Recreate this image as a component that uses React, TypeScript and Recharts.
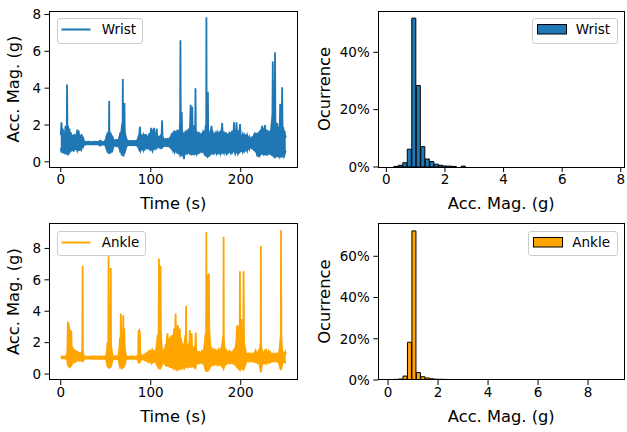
import React from 'react';
import { AreaChart, Area, BarChart, Bar, XAxis, YAxis, Legend, Label } from 'recharts';

const FONT = 'DejaVu Sans';
const WRIST_COLOR = '#1f77b4';
const ANKLE_COLOR = '#ffa500';

// Wrist signal: [time (s), lower envelope (g), upper envelope (g)]
const wristSignal: number[][] = [
  [0, 0.75, 1.45], [0.8, 0.5, 2.15], [1.5, 0.7, 1.5], [2.2, 0.6, 1.8], [3, 0.75, 1.4], [3.8, 0.45, 1.6],
  [4.5, 0.7, 1.45], [5.3, 0.4, 1.95], [6.1, 0.65, 1.5], [6.7, 0.55, 1.9], [7.05, 0.6, 4.2], [7.4, 0.6, 1.7],
  [8.1, 0.35, 1.95], [8.9, 0.7, 1.45], [9.6, 0.45, 1.8], [10.4, 0.7, 1.4], [11.2, 0.55, 1.6], [12, 0.8, 1.3],
  [12.8, 0.6, 1.45], [13.6, 0.8, 1.25], [14.4, 0.55, 1.5], [15.2, 0.8, 1.3], [16, 0.65, 1.4], [16.8, 0.85, 1.25],
  [17.6, 0.7, 1.4], [18.4, 0.6, 1.75], [19.2, 0.75, 1.45], [19.9, 0.6, 1.7], [20.7, 0.8, 1.3], [21.5, 0.7, 1.45],
  [22.3, 0.85, 1.25], [23.1, 0.7, 1.5], [23.9, 0.85, 1.25], [24.8, 0.8, 1.3], [25.7, 0.9, 1.15], [26.6, 0.93, 1.1],
  [28.5, 0.95, 1.08], [31, 0.96, 1.1], [34, 0.95, 1.07], [37, 0.96, 1.09], [40, 0.95, 1.08], [42.5, 0.93, 1.1],
  [44, 0.88, 1.15], [45, 0.92, 1.12], [46.5, 0.95, 1.07], [48.5, 0.93, 1.1],
  [50, 0.85, 1.2], [50.8, 0.7, 1.4], [51.6, 0.6, 1.5], [52.4, 0.75, 1.35], [53.1, 0.55, 1.6], [53.55, 0.6, 1.5],
  [53.8, 0.65, 3.3], [54.05, 0.6, 1.5], [54.6, 0.45, 1.55], [55.3, 0.7, 1.35], [56, 0.5, 1.45], [56.8, 0.75, 1.3],
  [57.6, 0.65, 1.35], [58.5, 0.85, 1.2], [60, 0.88, 1.15], [61.5, 0.85, 1.2], [63, 0.88, 1.15], [64.5, 0.8, 1.25],
  [65.4, 0.7, 1.4], [66.2, 0.5, 1.6], [67, 0.7, 1.45], [67.7, 0.35, 1.85], [68.4, 0.6, 2.1], [68.75, 0.55, 2.0],
  [68.95, 0.5, 4.5], [69.2, 0.4, 2.2], [69.8, 0.3, 1.8], [70.4, 0.55, 1.9], [70.8, 0.5, 3.2], [71.1, 0.5, 1.7],
  [71.7, 0.6, 1.5], [72.4, 0.75, 1.35], [73.2, 0.85, 1.2], [74.5, 0.9, 1.15], [77, 0.92, 1.12], [80, 0.9, 1.14],
  [83, 0.92, 1.12], [85.5, 0.85, 1.2],
  [86.5, 0.75, 1.4], [87.3, 0.65, 1.5], [87.9, 0.7, 1.92], [88.5, 0.6, 1.55], [89.3, 0.75, 1.35], [90.1, 0.7, 1.4],
  [91, 0.8, 1.3], [91.8, 0.65, 1.45], [92.6, 0.8, 1.3], [93.4, 0.7, 1.5], [94.2, 0.8, 1.3], [95, 0.75, 1.4],
  [95.8, 0.85, 1.25], [96.6, 0.75, 1.35], [97.4, 0.8, 1.3], [98.2, 0.7, 1.55], [99, 0.75, 1.4], [99.8, 0.65, 1.6],
  [100.5, 0.7, 1.85], [101.2, 0.75, 1.45], [102, 0.6, 1.75], [102.8, 0.75, 1.5], [103.6, 0.7, 1.85], [104.3, 0.8, 1.35],
  [105.1, 0.75, 1.45], [105.9, 0.7, 1.5], [106.6, 0.75, 1.8], [107.3, 0.8, 1.35], [108.1, 0.85, 1.3], [108.9, 0.8, 1.35],
  [109.7, 0.85, 1.25], [110.5, 0.75, 1.4], [111.3, 0.8, 1.45], [112.1, 0.75, 1.5], [112.6, 0.8, 2.25], [113.1, 0.8, 1.45],
  [113.9, 0.85, 1.25], [115, 0.88, 1.2], [116.3, 0.85, 1.25], [117.6, 0.88, 1.2], [118.9, 0.84, 1.25], [120.2, 0.85, 1.22],
  [121.4, 0.8, 1.3],
  [122.4, 0.75, 1.4], [123.2, 0.7, 1.5], [124, 0.75, 1.45], [124.8, 0.6, 1.55], [125.6, 0.7, 1.4], [126.4, 0.55, 1.7],
  [127.2, 0.7, 1.45], [128, 0.6, 1.55], [128.8, 0.7, 1.45], [129.6, 0.45, 1.75], [130.4, 0.65, 1.5], [131.2, 0.5, 1.7],
  [132, 0.6, 1.5], [132.6, 0.4, 2.2], [133, 0.45, 6.6], [133.4, 0.4, 1.8], [134, 0.5, 1.6], [134.4, 0.5, 2.7],
  [134.8, 0.4, 1.7], [135.5, 0.3, 1.5], [136.2, 0.55, 1.4], [136.9, 0.15, 1.6], [137.5, 0.45, 1.45], [138.2, 0.55, 1.55],
  [139, 0.4, 1.7], [139.8, 0.6, 1.45], [140.6, 0.5, 1.6], [141.4, 0.65, 1.45], [142.2, 0.45, 1.8], [143, 0.6, 1.5],
  [143.7, 0.4, 2.0], [144.3, 0.5, 3.1], [144.8, 0.5, 1.6], [145.5, 0.35, 1.9], [146.1, 0.5, 3.0], [146.6, 0.5, 1.6],
  [147.3, 0.45, 1.9], [148, 0.6, 1.5], [148.7, 0.45, 2.0], [149.4, 0.5, 1.8], [149.7, 0.5, 4.0], [150.1, 0.45, 1.7],
  [150.8, 0.4, 1.6], [151.6, 0.6, 1.45], [152.4, 0.5, 1.55], [153.2, 0.65, 1.4], [154, 0.45, 1.6], [154.8, 0.6, 1.45],
  [155.6, 0.7, 1.4], [156.4, 0.5, 1.5], [157.2, 0.65, 1.45], [158, 0.55, 1.6], [158.8, 0.6, 1.45], [159.6, 0.45, 1.7],
  [160.4, 0.55, 1.5], [161.1, 0.4, 2.0], [161.6, 0.45, 1.8], [161.85, 0.4, 7.85], [162.1, 0.35, 1.9], [162.7, 0.3, 2.1],
  [163.2, 0.4, 1.8], [163.5, 0.4, 3.8], [163.8, 0.35, 1.8], [164.5, 0.45, 1.6], [165.2, 0.3, 1.5], [166, 0.6, 1.45],
  [166.8, 0.45, 1.7], [167.5, 0.5, 1.95], [168.2, 0.55, 1.5], [169, 0.4, 1.6], [169.8, 0.6, 1.45], [170.6, 0.5, 1.5],
  [171.4, 0.65, 1.4], [172.2, 0.55, 1.55], [173, 0.45, 1.45], [173.8, 0.6, 1.6], [174.6, 0.5, 1.45], [175.4, 0.65, 1.4],
  [176.2, 0.5, 1.65], [177, 0.6, 1.45], [177.8, 0.45, 1.6], [178.6, 0.6, 1.45], [179.3, 0.55, 2.1], [180, 0.5, 1.5],
  [180.8, 0.65, 1.4], [181.6, 0.5, 1.55], [182.4, 0.65, 1.45], [183.2, 0.55, 1.6], [184, 0.45, 1.4], [184.8, 0.6, 1.5],
  [185.6, 0.5, 1.45], [186.4, 0.65, 1.4], [187.2, 0.55, 1.55], [188, 0.6, 1.45], [188.8, 0.5, 1.6], [189.6, 0.65, 1.4],
  [190.4, 0.5, 1.7], [191.2, 0.6, 1.45], [192, 0.55, 1.6], [192.5, 0.55, 2.15], [193, 0.6, 1.5], [193.8, 0.45, 1.65],
  [194.6, 0.6, 1.45], [195.3, 0.55, 2.15], [195.9, 0.6, 1.5], [196.7, 0.45, 1.55], [197.5, 0.6, 1.7], [198.3, 0.5, 1.5],
  [199.2, 0.55, 2.05], [199.9, 0.65, 1.45], [200.7, 0.6, 1.4], [201.5, 0.7, 1.35], [202.3, 0.55, 1.5], [203.1, 0.7, 1.35],
  [203.9, 0.6, 1.45], [204.7, 0.75, 1.3], [205.5, 0.65, 1.4], [206.3, 0.75, 1.3], [207.1, 0.6, 1.45], [207.9, 0.75, 1.3],
  [208.7, 0.8, 1.25], [209.5, 0.7, 1.35], [210.3, 0.85, 1.2], [211.1, 0.8, 1.25], [211.9, 0.75, 1.3], [212.7, 0.85, 1.2],
  [213.5, 0.7, 1.35], [214.3, 0.65, 1.4], [215.1, 0.7, 1.5], [215.9, 0.6, 1.4], [216.7, 0.55, 1.5], [217.5, 0.65, 1.4],
  [218.2, 0.3, 1.5], [218.9, 0.6, 1.45], [219.7, 0.5, 1.55], [220.5, 0.25, 1.6], [221.2, 0.55, 1.5], [222, 0.45, 1.75],
  [222.8, 0.6, 1.5], [223.6, 0.4, 1.95], [224.4, 0.55, 1.6], [225.2, 0.45, 1.85], [226, 0.6, 1.55], [226.8, 0.35, 2.0],
  [227.6, 0.55, 1.6], [228.4, 0.45, 1.75], [229.2, 0.6, 1.5], [230, 0.45, 1.7], [230.8, 0.6, 1.5], [231.6, 0.4, 1.6],
  [232.4, 0.55, 1.65], [233.2, 0.45, 1.5], [233.9, 0.4, 1.9], [234.6, 0.45, 2.2], [235.2, 0.35, 2.6], [235.6, 0.35, 5.45],
  [236, 0.35, 2.3], [236.7, 0.3, 2.6], [237.3, 0.35, 4.4], [237.7, 0.3, 2.5], [238.1, 0.35, 5.95], [238.5, 0.3, 2.2],
  [239.2, 0.4, 2.0], [239.9, 0.35, 1.7], [240.6, 0.45, 2.1], [241.3, 0.35, 1.8], [242, 0.45, 1.6], [242.7, 0.3, 1.9],
  [243.3, 0.4, 1.7], [243.8, 0.35, 3.15], [244.3, 0.45, 1.8], [245, 0.3, 2.2], [245.6, 0.35, 2.4], [246, 0.35, 4.05],
  [246.4, 0.4, 1.8], [247.1, 0.3, 1.9], [247.8, 0.45, 1.6], [248.5, 0.35, 1.7], [249.2, 0.5, 1.5], [250, 0.6, 1.3],
];

// Ankle signal: [time (s), lower envelope (g), upper envelope (g)]
const ankleSignal: number[][] = [
  [0, 1.0, 1.12], [3, 1.0, 1.1], [6, 0.98, 1.12], [7.2, 0.9, 1.4], [7.6, 0.7, 2.0], [7.9, 0.6, 3.25],
  [8.6, 0.5, 3.2], [9.2, 0.55, 3.0], [9.6, 0.6, 1.8], [10.3, 0.45, 2.7], [11, 0.5, 2.75], [11.7, 0.55, 2.7],
  [12.1, 0.6, 1.8], [12.8, 0.7, 1.5], [13.6, 0.75, 1.6], [14.4, 0.8, 1.45], [15.2, 0.75, 1.5], [16, 0.85, 1.4],
  [16.8, 0.8, 1.45], [17.6, 0.85, 1.35], [18.4, 0.85, 1.4], [19.2, 0.9, 1.3], [20, 0.85, 1.35], [20.8, 0.9, 1.25],
  [21.6, 0.88, 1.3], [22.4, 0.9, 1.2], [23.2, 0.85, 1.35], [23.9, 0.8, 1.6], [24.3, 0.8, 6.9], [24.6, 0.8, 1.5],
  [25.2, 0.9, 1.2], [26, 0.95, 1.13], [28, 0.98, 1.11], [32, 0.98, 1.1], [36, 0.97, 1.12], [40, 0.98, 1.1],
  [44, 0.97, 1.12], [48, 0.98, 1.1],
  [50.5, 0.92, 1.18], [51.3, 0.7, 1.5], [51.9, 0.5, 2.0], [52.5, 0.45, 1.8], [52.85, 0.5, 2.2], [53.1, 0.5, 7.5],
  [53.35, 0.45, 2.1], [53.9, 0.4, 1.9], [54.5, 0.5, 2.1], [55.1, 0.45, 1.9], [55.6, 0.45, 6.75], [55.9, 0.5, 1.8],
  [56.4, 0.6, 1.6], [57, 0.75, 1.35], [57.7, 0.9, 1.2], [58.5, 0.95, 1.13], [61, 0.97, 1.12], [63.5, 0.95, 1.15],
  [64.5, 0.85, 1.3], [65.2, 0.6, 1.7], [65.8, 0.45, 2.3], [66.4, 0.5, 2.0], [66.8, 0.45, 3.85], [67.2, 0.5, 2.1],
  [67.8, 0.4, 2.4], [68.4, 0.5, 1.9], [69, 0.45, 2.2], [69.5, 0.5, 3.75], [69.9, 0.45, 2.0], [70.5, 0.5, 2.9],
  [71.1, 0.6, 1.7], [71.7, 0.75, 1.4], [72.4, 0.9, 1.2], [73.2, 0.97, 1.13], [76, 0.98, 1.1], [80, 0.97, 1.12],
  [84, 0.98, 1.1], [86, 0.9, 1.2], [86.4, 0.75, 2.75], [87.2, 0.8, 2.8], [87.9, 0.75, 2.6], [88.4, 0.85, 1.4],
  [89.2, 0.95, 1.15], [90, 0.95, 1.15], [91.5, 0.92, 1.2], [93, 0.9, 1.2], [94.2, 0.85, 1.3], [95.2, 0.9, 1.2],
  [96.2, 0.8, 1.35], [97.2, 0.85, 1.3], [98.1, 0.75, 1.5], [99, 0.85, 1.3], [99.9, 0.8, 1.45], [100.8, 0.7, 1.3],
  [101.6, 0.85, 1.5], [102.4, 0.75, 1.35], [103.2, 0.8, 1.45], [104, 0.85, 1.3], [104.8, 0.75, 1.4], [105.6, 0.8, 1.5],
  [106.4, 0.7, 1.7], [107.1, 0.55, 2.1], [107.7, 0.5, 2.5], [108.3, 0.45, 2.2], [108.8, 0.4, 3.0], [109.1, 0.45, 7.35],
  [109.4, 0.4, 2.6], [110, 0.45, 3.5], [110.5, 0.4, 2.4], [110.9, 0.5, 6.9], [111.3, 0.45, 2.8], [111.8, 0.5, 2.0],
  [112.4, 0.6, 1.6], [113.1, 0.75, 1.4], [113.8, 0.85, 1.3], [114.5, 0.8, 1.35],
  [115.3, 0.6, 1.7], [116, 0.75, 1.45], [116.7, 0.5, 1.9], [117.4, 0.65, 1.6], [118, 0.55, 2.3], [118.6, 0.6, 2.6],
  [119.2, 0.7, 1.7], [119.9, 0.45, 1.9], [120.6, 0.6, 2.3], [121.2, 0.55, 1.7], [121.9, 0.4, 2.1], [122.6, 0.6, 2.45],
  [123.2, 0.5, 1.8], [123.9, 0.35, 2.2], [124.6, 0.55, 2.5], [125.2, 0.45, 1.9], [125.9, 0.35, 2.9], [126.5, 0.5, 2.2],
  [127.1, 0.3, 2.6], [127.6, 0.4, 3.85], [128.1, 0.35, 2.4], [128.8, 0.5, 1.9], [129.5, 0.3, 2.5], [130.2, 0.4, 3.1],
  [130.8, 0.45, 2.0], [131.5, 0.25, 2.6], [132.2, 0.45, 2.9], [132.9, 0.5, 1.8], [133.6, 0.3, 2.3], [134.3, 0.5, 1.7],
  [135, 0.4, 2.0], [135.7, 0.55, 1.6], [136.4, 0.45, 1.9], [137.1, 0.6, 1.6], [137.8, 0.4, 2.1], [138.5, 0.5, 2.5],
  [138.95, 0.45, 2.2], [139.25, 0.45, 4.35], [139.6, 0.5, 2.0], [140.3, 0.55, 1.6], [141, 0.45, 1.9], [141.7, 0.6, 1.5],
  [142.4, 0.5, 1.8], [143.1, 0.45, 2.2], [143.5, 0.45, 2.8], [143.9, 0.5, 1.9], [144.6, 0.45, 2.2], [145.4, 0.45, 2.6],
  [145.9, 0.55, 1.7], [146.6, 0.6, 1.5], [147.3, 0.5, 1.7], [148, 0.6, 1.5], [148.7, 0.45, 1.8], [149.4, 0.55, 1.6],
  [150, 0.45, 2.65], [150.5, 0.6, 1.5], [151.2, 0.7, 1.4], [152, 0.75, 1.35], [152.8, 0.7, 1.4], [153.6, 0.8, 1.3],
  [154.4, 0.7, 1.4], [155.2, 0.75, 1.35], [156, 0.8, 1.3], [156.8, 0.7, 1.45], [157.6, 0.8, 1.3], [158.4, 0.75, 1.4],
  [159.2, 0.6, 1.6], [159.9, 0.45, 1.9], [160.5, 0.35, 2.3], [161.1, 0.2, 2.6], [161.5, 0.3, 2.2], [161.75, 0.15, 9.05],
  [162, 0.2, 2.4], [162.5, 0.3, 3.0], [163.1, 0.25, 4.0], [163.5, 0.3, 6.3], [164.1, 0.25, 6.2], [164.6, 0.3, 6.4],
  [165, 0.35, 3.0], [165.6, 0.4, 2.2], [166.2, 0.5, 1.8], [166.9, 0.6, 1.5], [167.6, 0.55, 1.6], [168.4, 0.65, 1.45],
  [169.2, 0.6, 1.55], [170, 0.7, 1.4], [170.8, 0.6, 1.5], [171.6, 0.7, 1.35], [172.4, 0.65, 1.5], [173.2, 0.75, 1.35],
  [174, 0.6, 1.45], [174.8, 0.7, 1.4], [175.6, 0.6, 1.55], [176.4, 0.7, 1.4], [177.2, 0.6, 1.5], [178, 0.55, 1.6],
  [178.8, 0.5, 1.7], [179.6, 0.45, 2.0], [180.3, 0.4, 2.4], [180.7, 0.4, 2.0], [180.95, 0.35, 8.75], [181.2, 0.4, 2.2],
  [181.8, 0.5, 1.8], [182.5, 0.6, 1.5], [183.3, 0.7, 1.4], [184.1, 0.65, 1.5], [184.9, 0.75, 1.35], [185.7, 0.7, 1.4],
  [186.5, 0.75, 1.35], [187.3, 0.7, 1.45], [188.1, 0.8, 1.3], [188.9, 0.7, 1.4], [189.7, 0.75, 1.35], [190.5, 0.7, 1.4],
  [191.3, 0.75, 1.35], [192.1, 0.65, 1.5], [192.9, 0.7, 1.4], [193.7, 0.6, 1.6], [194.5, 0.55, 1.8], [195.2, 0.5, 2.2],
  [195.8, 0.45, 3.0], [196.5, 0.4, 3.1], [197.1, 0.45, 2.3], [197.7, 0.35, 2.6], [198.3, 0.3, 3.0], [198.8, 0.3, 2.4],
  [199.1, 0.3, 6.55], [199.4, 0.25, 2.4], [200, 0.3, 2.8], [200.6, 0.35, 3.5], [201.1, 0.4, 2.2], [201.7, 0.35, 2.5],
  [202.3, 0.4, 2.0], [202.8, 0.35, 2.4], [203.2, 0.3, 6.55], [203.6, 0.35, 2.0], [204.2, 0.45, 1.8], [204.9, 0.55, 1.6],
  [205.6, 0.7, 1.4], [206.5, 0.8, 1.3], [207.5, 0.85, 1.25], [208.5, 0.8, 1.3], [209.5, 0.85, 1.2], [210.5, 0.8, 1.3],
  [211.5, 0.85, 1.25], [212.5, 0.8, 1.3], [213.5, 0.85, 1.2], [214.5, 0.8, 1.3], [215.5, 0.75, 1.35], [216.5, 0.8, 1.5],
  [217.3, 0.75, 1.3], [218.1, 0.8, 1.35], [218.9, 0.7, 1.3], [219.7, 0.75, 1.45], [220.5, 0.7, 1.35], [221.2, 0.5, 1.6],
  [221.8, 0.3, 1.9], [222.15, 0.2, 2.0], [222.4, 0.1, 8.15], [222.65, 0.25, 1.9], [223.2, 0.45, 1.6], [223.9, 0.6, 1.45],
  [224.6, 0.7, 1.35], [225.3, 0.75, 1.3], [226.1, 0.7, 1.4], [226.8, 0.75, 1.55], [227.5, 0.7, 1.35], [228.2, 0.65, 1.6],
  [228.9, 0.8, 1.3], [229.7, 0.75, 1.35], [230.5, 0.8, 1.3], [231.2, 0.7, 1.45], [232, 0.75, 1.35], [232.8, 0.8, 1.4],
  [233.6, 0.75, 1.3], [234.4, 0.8, 1.25], [235.2, 0.85, 1.2], [236, 0.8, 1.3], [236.8, 0.85, 1.2], [237.6, 0.8, 1.25],
  [238.4, 0.85, 1.2], [239.2, 0.8, 1.3], [240, 0.85, 1.2], [240.8, 0.8, 1.25], [241.6, 0.75, 1.3], [242.4, 0.7, 1.4],
  [243.2, 0.55, 1.6], [243.9, 0.35, 2.1], [244.5, 0.3, 2.5], [244.8, 0.3, 9.15], [245.1, 0.35, 2.4], [245.7, 0.5, 1.8],
  [246.4, 0.7, 1.4], [247.2, 0.8, 1.3], [248, 0.75, 1.35], [248.8, 0.8, 1.3], [249.5, 0.75, 1.4], [250, 0.8, 1.25],
];

// Histograms: 50 bins, occurrence in %
const wristBinStart = 0.1;
const wristBinWidth = 0.1535;
const wristHist = [
  0, 0.2, 0.6, 1.5, 6.2, 51.9, 28.4, 7.1, 2.8, 1.9,
  1.0, 0.6, 0.35, 0.3, 0.2, 0, 0.3, 0, 0, 0,
  0, 0, 0, 0, 0, 0, 0, 0, 0, 0,
  0, 0, 0, 0, 0, 0, 0, 0, 0, 0,
  0, 0, 0, 0, 0, 0, 0, 0, 0, 0,
];
const ankleBinStart = 0.06;
const ankleBinWidth = 0.179;
const ankleHist = [
  0, 0.3, 0.5, 1.9, 18.3, 72.3, 3.6, 1.6, 1.0, 0.6,
  0.4, 0.35, 0.3, 0, 0, 0, 0, 0, 0, 0,
  0, 0, 0, 0, 0, 0, 0, 0, 0, 0,
  0, 0, 0, 0, 0, 0, 0, 0, 0, 0,
  0, 0, 0, 0, 0, 0, 0, 0, 0, 0,
];

const timeTicks = [0, 100, 200];
const accTicks = [0, 2, 4, 6, 8];
const wristPctTicks = [0, 20, 40];
const anklePctTicks = [0, 20, 40, 60];

const tickStyle = { fontSize: 13.5, fontFamily: FONT, fill: '#000' };
const tickLineStyle = { stroke: '#000', strokeWidth: 1 };

type Plot = { left: number; top: number; right: number; bottom: number };

const xLabel = (text: string) => (props: any) => {
  const vb = props.viewBox || {};
  return (
    <text x={vb.x + vb.width / 2} y={vb.y + 41.5} textAnchor="middle" fontSize={16.3} fontFamily={FONT} fill="#000">
      {text}
    </text>
  );
};

const yLabel = (text: string, bx: number) => (props: any) => {
  const vb = props.viewBox || {};
  const cy = vb.y + vb.height / 2;
  return (
    <text x={bx} y={cy} transform={`rotate(-90 ${bx} ${cy})`} textAnchor="middle" fontSize={16.3} fontFamily={FONT} fill="#000">
      {text}
    </text>
  );
};

const LegendBox = ({ payload, boxWidth, kind, textLeft }: any) => {
  const item = payload && payload[0];
  if (!item) return null;
  return (
    <div
      style={{
        boxSizing: 'border-box', width: boxWidth, height: 25.5, border: '1px solid #cccccc', borderRadius: 3,
        background: 'rgba(255,255,255,0.8)', position: 'relative', fontFamily: FONT, fontSize: 13.5, color: '#000',
      }}
    >
      <svg width={34} height={23} style={{ position: 'absolute', left: 2, top: 0 }}>
        {kind === 'line' ? (
          <line x1={1.5} x2={30.5} y1={10.5} y2={10.5} stroke={item.color} strokeWidth={2} />
        ) : (
          <rect x={2.5} y={5.5} width={29} height={9.5} fill={item.color} stroke="#000" strokeWidth={1} />
        )}
      </svg>
      <span style={{ position: 'absolute', left: textLeft, top: 2, lineHeight: '16px', whiteSpace: 'nowrap' }}>{item.value}</span>
    </div>
  );
};

const Frame = ({ plot }: { plot: Plot }) => (
  <div
    style={{
      position: 'absolute', left: plot.left - 0.5, top: plot.top - 0.5, width: plot.right - plot.left + 1,
      height: plot.bottom - plot.top + 1, border: '1px solid #000', boxSizing: 'border-box', pointerEvents: 'none',
    }}
  />
);

function LinePanel(props: {
  left: number; top: number; width: number; height: number; plot: Plot; signal: number[][]; color: string;
  name: string; yDomain: [number, number]; legendLeft: number; legendTop: number; legendWidth: number;
}) {
  const { left, top, width, height, plot, signal, color, name, yDomain } = props;
  const data = signal.map(([t, lo, hi]) => ({ t, band: [lo, hi] }));
  return (
    <div style={{ position: 'absolute', left, top, width, height }}>
      <AreaChart width={width} height={height} data={data} margin={{ top: plot.top, right: width - plot.right, left: 0, bottom: 0 }}>
        <XAxis
          type="number" dataKey="t" domain={[-12.5, 262.5]} ticks={timeTicks} interval={0} allowDataOverflow
          height={height - plot.bottom} axisLine={false} tickLine={tickLineStyle} tickSize={5} tickMargin={2.5} tick={tickStyle}
        >
          <Label content={xLabel('Time (s)')} />
        </XAxis>
        <YAxis
          type="number" domain={yDomain} ticks={accTicks} interval={0} allowDataOverflow width={plot.left}
          axisLine={false} tickLine={tickLineStyle} tickSize={5} tickMargin={3.5} tick={tickStyle}
        >
          <Label content={yLabel('Acc. Mag. (g)', 19)} />
        </YAxis>
        <Area
          type="linear" dataKey="band" name={name} stroke={color} strokeWidth={1.8} strokeLinejoin="miter" fill={color} fillOpacity={1}
          isAnimationActive={false} dot={false} activeDot={false}
        />
        <Legend
          layout="horizontal" verticalAlign="middle" align="center"
          wrapperStyle={{ left: props.legendLeft, top: props.legendTop, width: 'auto', height: 'auto' }}
          content={(p: any) => <LegendBox payload={p.payload} boxWidth={props.legendWidth} kind="line" textLeft={44} />}
        />
      </AreaChart>
      <Frame plot={plot} />
    </div>
  );
}

function HistPanel(props: {
  left: number; top: number; width: number; height: number; plot: Plot; hist: number[]; binStart: number;
  binWidth: number; color: string; name: string; xDomain: [number, number]; yDomain: [number, number];
  yTicks: number[]; legendLeft: number; legendTop: number; legendWidth: number;
}) {
  const { left, top, width, height, plot, hist, binStart, binWidth, color, name, xDomain, yDomain } = props;
  const data = hist.map((pct, i) => ({ x: binStart + binWidth * (i + 0.5), pct }));
  const barPx = (binWidth / (xDomain[1] - xDomain[0])) * (plot.right - plot.left);
  return (
    <div style={{ position: 'absolute', left, top, width, height }}>
      <BarChart
        width={width} height={height} data={data} barCategoryGap={0} barGap={0}
        margin={{ top: plot.top, right: width - plot.right, left: 0, bottom: 0 }}
      >
        <XAxis
          type="number" dataKey="x" domain={xDomain} ticks={accTicks} interval={0} allowDataOverflow
          height={height - plot.bottom} axisLine={false} tickLine={tickLineStyle} tickSize={5} tickMargin={2.5} tick={tickStyle}
        >
          <Label content={xLabel('Acc. Mag. (g)')} />
        </XAxis>
        <YAxis
          type="number" domain={yDomain} ticks={props.yTicks} interval={0} allowDataOverflow width={plot.left}
          tickFormatter={(v: number) => `${v}%`} axisLine={false} tickLine={tickLineStyle} tickSize={5} tickMargin={3.5} tick={tickStyle}
        >
          <Label content={yLabel('Ocurrence', 17)} />
        </YAxis>
        <Bar dataKey="pct" name={name} fill={color} stroke="#000" strokeWidth={1} barSize={barPx} isAnimationActive={false} />
        <Legend
          layout="horizontal" verticalAlign="middle" align="center"
          wrapperStyle={{ left: props.legendLeft, top: props.legendTop, width: 'auto', height: 'auto' }}
          content={(p: any) => <LegendBox payload={p.payload} boxWidth={props.legendWidth} kind="rect" textLeft={43} />}
        />
      </BarChart>
      <Frame plot={plot} />
    </div>
  );
}

export default function App() {
  return (
    <div style={{ position: 'absolute', left: 0, top: 0, width: 627, height: 432, background: '#fff', overflow: 'hidden' }}>
      <LinePanel
        left={0} top={0} width={313} height={216} plot={{ left: 49.5, top: 11, right: 297, bottom: 167 }}
        signal={wristSignal} color={WRIST_COLOR} name="Wrist" yDomain={[-0.28, 8.19]}
        legendLeft={56.7} legendTop={18.3} legendWidth={86.6}
      />
      <HistPanel
        left={313} top={0} width={314} height={216} plot={{ left: 65.3, top: 11, right: 311.3, bottom: 167 }}
        hist={wristHist} binStart={wristBinStart} binWidth={wristBinWidth} color={WRIST_COLOR} name="Wrist"
        xDomain={[-0.275, 8.12]} yDomain={[0, 54.4]} yTicks={wristPctTicks}
        legendLeft={218.7} legendTop={18.3} legendWidth={86.6}
      />
      <LinePanel
        left={0} top={216} width={313} height={216} plot={{ left: 49.5, top: 7.3, right: 297, bottom: 164 }}
        signal={ankleSignal} color={ANKLE_COLOR} name="Ankle" yDomain={[-0.38, 9.6]}
        legendLeft={56.7} legendTop={14.7} legendWidth={89.3}
      />
      <HistPanel
        left={313} top={216} width={314} height={216} plot={{ left: 65.3, top: 7.3, right: 311.3, bottom: 164 }}
        hist={ankleHist} binStart={ankleBinStart} binWidth={ankleBinWidth} color={ANKLE_COLOR} name="Ankle"
        xDomain={[-0.39, 9.45]} yDomain={[0, 76]} yTicks={anklePctTicks}
        legendLeft={215.3} legendTop={14.7} legendWidth={90}
      />
    </div>
  );
}
